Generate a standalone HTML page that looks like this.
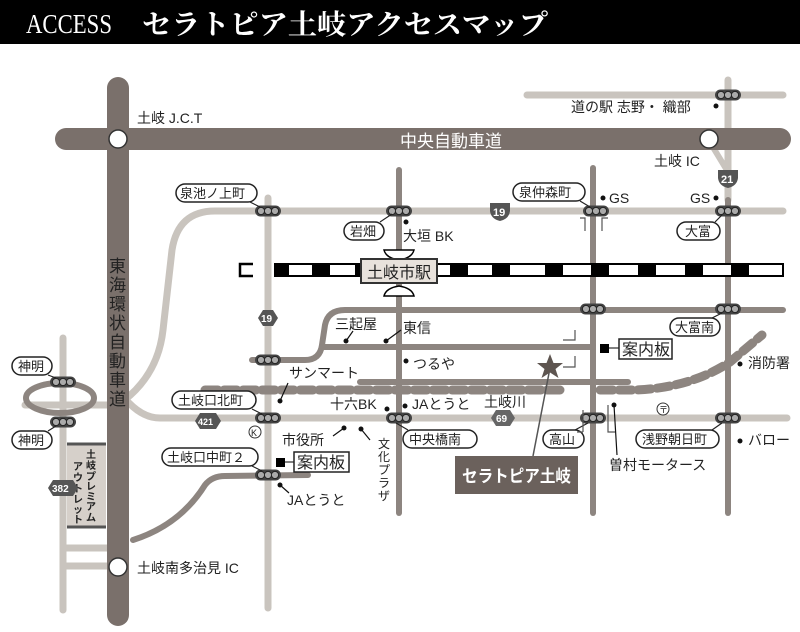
<!DOCTYPE html>
<html><head><meta charset="utf-8"><style>
html,body{margin:0;padding:0;background:#fff;}
svg{display:block;}
text{font-family:"Liberation Sans","Noto Sans CJK JP",sans-serif;fill:#222;}
</style></head><body>
<svg width="800" height="632" viewBox="0 0 800 632" xmlns="http://www.w3.org/2000/svg">
<defs>
<g id="sig"><rect x="-13" y="-5.5" width="26" height="11" rx="5.5" fill="#444"/><circle cx="-7" cy="0" r="3.6" fill="#aaa" stroke="#222" stroke-width="1"/><circle cx="0" cy="0" r="3.6" fill="#aaa" stroke="#222" stroke-width="1"/><circle cx="7" cy="0" r="3.6" fill="#aaa" stroke="#222" stroke-width="1"/></g>
</defs>
<rect x="0" y="0" width="800" height="632" fill="#fff"/>
<!-- header -->
<rect x="0" y="0" width="800" height="44" fill="#000"/>
<text x="26" y="33" textLength="86" lengthAdjust="spacingAndGlyphs" style="font-family:'Liberation Serif',serif;fill:#fff;font-size:27px">ACCESS</text>
<text x="142" y="34" textLength="406" lengthAdjust="spacingAndGlyphs" style="font-family:'Noto Serif CJK SC','Noto Sans CJK JP',serif;fill:#fff;font-size:28px;font-weight:bold">セラトピア土岐アクセスマップ</text>

<!-- light roads -->
<g stroke="#c9c4be" stroke-width="7" fill="none" stroke-linecap="round">
<path d="M527 95 L783 95"/>
<path d="M728 80 L728 200"/>
<path d="M783 211 L215 211 Q178 211 172 250 L163 330 Q158 375 122 402"/>
<path d="M268 198 L268 608"/>
<path d="M122 395 Q140 418 160 418 L787 418"/>
<path d="M25 405 L108 405"/>
<path d="M63 338 L63 610"/>
<path d="M65 548 L108 548"/>
<path d="M65 566 L108 566"/>
<path d="M708 139 L728 172" stroke-width="6"/>
</g>
<!-- darker roads -->
<g stroke="#8d8580" stroke-width="6" fill="none" stroke-linecap="round">
<path d="M399 170 L399 513"/>
<path d="M593 168 L593 513"/>
<path d="M728 200 L728 513"/>
<path d="M252 360 L305 360 Q320 360 322 345 L325 325 Q328 310 345 310 L783 310"/>
<path d="M322 347 L593 347"/>
<path d="M360 382 L628 382"/>
<path d="M133 540 Q180 525 205 485 Q212 476 225 476 L308 475"/>
<ellipse cx="60" cy="398" rx="34" ry="15"/>
</g>
<!-- river -->
<path d="M205 390 L560 390 M600 390 L635 390 Q690 388 730 362 L762 335" stroke="#8d8580" stroke-width="9" fill="none" stroke-dasharray="13 6" stroke-linecap="round"/>
<!-- expressways -->
<path d="M66 139 L780 139" stroke="#7a706b" stroke-width="22" stroke-linecap="round"/>
<path d="M118 88 L118 615" stroke="#7a706b" stroke-width="22" stroke-linecap="round"/>
<circle cx="118" cy="139" r="9" fill="#fff" stroke="#333" stroke-width="1.5"/>
<circle cx="709" cy="139" r="9" fill="#fff" stroke="#333" stroke-width="1.5"/>
<circle cx="118" cy="567" r="9" fill="#fff" stroke="#333" stroke-width="1.5"/>
<text x="400" y="147" font-size="17" style="fill:#fff">中央自動車道</text>
<g style="fill:#fff" font-size="17">
<text x="109" y="272">東</text><text x="109" y="291">海</text><text x="109" y="310">環</text><text x="109" y="329">状</text><text x="109" y="348">自</text><text x="109" y="367">動</text><text x="109" y="386">車</text><text x="109" y="405">道</text>
</g>
<!-- outlet -->
<rect x="67" y="444" width="39" height="83" fill="#d6d0ca"/>
<path d="M67 444 L106 444 M67 527 L106 527" stroke="#555" stroke-width="3"/>
<g font-size="10" font-weight="bold" text-anchor="middle">
<text x="91" y="458">土</text><text x="91" y="469">岐</text><text x="91" y="480">プ</text><text x="91" y="490">レ</text><text x="91" y="500">ミ</text><text x="91" y="510">ア</text><text x="91" y="521">ム</text>
<text x="78" y="470">ア</text><text x="78" y="481">ウ</text><text x="78" y="492">ト</text><text x="78" y="503">レ</text><text x="78" y="513">ッ</text><text x="78" y="523">ト</text>
</g>
<!-- railway -->
<path d="M253 264 L240 264 L240 276 L253 276" fill="none" stroke="#000" stroke-width="2.5"/>
<rect x="275" y="264" width="508" height="12" fill="#fff" stroke="#000" stroke-width="2"/>
<g fill="#000">
<path d="M275 264h14v12h-14z M312 264h18v12h-18z M355 264h18v12h-18z M450 264h18v12h-18z M492 264h18v12h-18z M545 264h18v12h-18z M591 264h18v12h-18z M638 264h18v12h-18z M685 264h18v12h-18z M731 264h18v12h-18z"/>
</g>
<path d="M384 250 L414 250 Q412 258 399 260 Q386 258 384 250Z M384 296 L414 296 Q412 288 399 286 Q386 288 384 296Z" fill="#fff" stroke="#000" stroke-width="1.5"/>
<rect x="361" y="259" width="76" height="24" fill="#e8e2dc" stroke="#333" stroke-width="2"/>
<text x="367" y="278" font-size="16">土岐市駅</text>
<!-- shields -->
<g font-size="11" font-weight="bold">
<path d="M490 203 h20 v8 q-1 8 -10 10 q-9 -2 -10 -10z" fill="#555"/><text x="493" y="216" style="fill:#fff">19</text>
<path d="M718 170 h20 v8 q-1 8 -10 10 q-9 -2 -10 -10z" fill="#555"/><text x="721" y="183" style="fill:#fff">21</text>
<path d="M258 318 l5 -8 h10 l5 8 l-5 8 h-10z" fill="#555"/><text x="261" y="322" style="fill:#fff" font-size="10">19</text>
<path d="M195 421 l5 -8 h16 l5 8 l-5 8 h-16z" fill="#555"/><text x="198" y="425" style="fill:#fff" font-size="9">421</text>
<path d="M491 418 l5 -8 h14 l5 8 l-5 8 h-14z" fill="#666"/><text x="496" y="422" style="fill:#fff" font-size="10">69</text>
<path d="M48 488 l5 -8 h20 l5 8 l-5 8 h-20z" fill="#555"/><text x="52" y="492" style="fill:#fff" font-size="10">382</text>
</g>
<!-- signals -->
<use href="#sig" x="268" y="211"/><use href="#sig" x="399" y="211"/><use href="#sig" x="596" y="211"/><use href="#sig" x="728" y="211"/>
<use href="#sig" x="728" y="95"/><use href="#sig" x="593" y="309"/><use href="#sig" x="728" y="309"/><use href="#sig" x="268" y="360"/>
<use href="#sig" x="268" y="418"/><use href="#sig" x="399" y="418"/><use href="#sig" x="593" y="418"/><use href="#sig" x="728" y="418"/>
<use href="#sig" x="268" y="475"/><use href="#sig" x="63" y="382"/><use href="#sig" x="63" y="422"/>
<!-- pill labels -->
<g fill="#fff" stroke="#222" stroke-width="1.5">
<rect x="176" y="184" width="81" height="18" rx="9"/>
<rect x="344" y="222" width="40" height="18" rx="9"/>
<rect x="513" y="183" width="72" height="18" rx="9"/>
<rect x="677" y="222" width="43" height="18" rx="9"/>
<rect x="670" y="318" width="50" height="18" rx="9"/>
<rect x="172" y="391" width="84" height="18" rx="9"/>
<rect x="162" y="448" width="96" height="18" rx="9"/>
<rect x="12" y="357" width="40" height="18" rx="9"/>
<rect x="12" y="431" width="40" height="18" rx="9"/>
<rect x="403" y="430" width="74" height="18" rx="9"/>
<rect x="543" y="430" width="41" height="18" rx="9"/>
<rect x="636" y="430" width="83" height="18" rx="9"/>
<path d="M250 202 L260 207 M380 222 L392 214 M580 201 L590 207 M715 222 L722 215 M712 318 L722 313 M252 409 L262 414 M252 466 L262 471 M48 375 L56 378 M48 431 L56 426 M408 430 L396 423 M575 430 L588 423 M712 430 L722 423" fill="none" stroke-width="1.2"/>
</g>
<g font-size="13">
<text x="180" y="198">泉池ノ上町</text>
<text x="350" y="236">岩畑</text>
<text x="519" y="197">泉仲森町</text>
<text x="685" y="236">大富</text>
<text x="675" y="332">大富南</text>
<text x="178" y="405">土岐口北町</text>
<text x="167" y="462">土岐口中町２</text>
<text x="18" y="371">神明</text>
<text x="18" y="445">神明</text>
<text x="409" y="444">中央橋南</text>
<text x="549" y="444">高山</text>
<text x="642" y="444">浅野朝日町</text>
</g>
<!-- plain labels -->
<g font-size="14">
<text x="137" y="123">土岐 J.C.T</text>
<text x="571" y="112">道の駅 志野・ 織部</text>
<text x="654" y="166">土岐 IC</text>
<text x="609" y="203">GS</text>
<text x="690" y="203">GS</text>
<text x="403" y="241">大垣 BK</text>
<text x="335" y="329">三起屋</text>
<text x="403" y="333">東信</text>
<text x="413" y="369">つるや</text>
<text x="289" y="378">サンマート</text>
<text x="330" y="409">十六BK</text>
<text x="412" y="409">JAとうと</text>
<text x="484" y="407">土岐川</text>
<text x="282" y="445">市役所</text>
<text x="287" y="505">JAとうと</text>
<text x="609" y="470">曽村モータース</text>
<text x="748" y="368">消防署</text>
<text x="748" y="445">バロー</text>
<text x="137" y="573">土岐南多治見 IC</text>
</g>
<g font-size="12" text-anchor="middle">
<text x="384" y="448">文</text><text x="384" y="461">化</text><text x="384" y="474">プ</text><text x="384" y="487">ラ</text><text x="384" y="500">ザ</text>
</g>
<!-- dots & leaders -->
<g fill="#111">
<circle cx="716" cy="106" r="2.5"/><circle cx="603" cy="198" r="2.5"/><circle cx="716" cy="198" r="2.5"/><circle cx="406" cy="222" r="2.5"/>
<circle cx="346" cy="341" r="2.5"/><circle cx="386" cy="341" r="2.5"/><circle cx="406" cy="361" r="2.5"/><circle cx="280" cy="401" r="2.5"/>
<circle cx="387" cy="409" r="2.5"/><circle cx="405" cy="406" r="2.5"/><circle cx="614" cy="405" r="2.5"/><circle cx="740" cy="364" r="2.5"/>
<circle cx="740" cy="441" r="2.5"/><circle cx="344" cy="428" r="2.5"/><circle cx="361" cy="429" r="2.5"/><circle cx="280" cy="485" r="2.5"/>
</g>
<g stroke="#111" stroke-width="1.2" fill="none">
<path d="M346 341 L353 331 M386 341 L401 330 M280 401 L288 383 M344 428 L333 436 M361 429 L370 440 M280 485 L289 493 M614 405 L617 455"/>
<path d="M575 330 L575 340 L563 340 M575 356 L575 367 L563 367 M583 432 L583 410 M615 432 L608 432 L608 405 M577 432 L583 432" stroke="#555"/>
<path d="M580 218 L585 218 L585 231 M608 218 L602 218 L602 231" stroke="#555"/>
</g>
<circle cx="255" cy="432" r="6" fill="#fff" stroke="#333" stroke-width="1"/><text x="251" y="436" font-size="9">K</text>
<circle cx="663" cy="409" r="6" fill="#fff" stroke="#333" stroke-width="1"/><text x="659" y="413" font-size="9">〒</text>
<!-- info boards -->
<rect x="600" y="344" width="9" height="9" fill="#000"/><path d="M609 348 L619 348" stroke="#000"/>
<rect x="619" y="339" width="53" height="20" fill="#fff" stroke="#222" stroke-width="1.5"/><text x="622" y="355" font-size="16">案内板</text>
<rect x="276" y="458" width="9" height="9" fill="#000"/><path d="M285 462 L294 462" stroke="#000"/>
<rect x="294" y="452" width="55" height="20" fill="#fff" stroke="#222" stroke-width="1.5"/><text x="297" y="468" font-size="16">案内板</text>
<!-- star & main label -->
<path d="M533 456 L550 368" stroke="#555" stroke-width="1.5"/>
<polygon points="550,354 553.5,363 563,363 555.5,369 558.5,378 550,372.5 541.5,378 544.5,369 537,363 546.5,363" fill="#5e5550"/>
<rect x="455" y="456" width="123" height="38" fill="#6b615c"/>
<text x="462" y="482" font-size="17" font-weight="bold" textLength="109" lengthAdjust="spacingAndGlyphs" style="fill:#fff">セラトピア土岐</text>
</svg>
</body></html>
